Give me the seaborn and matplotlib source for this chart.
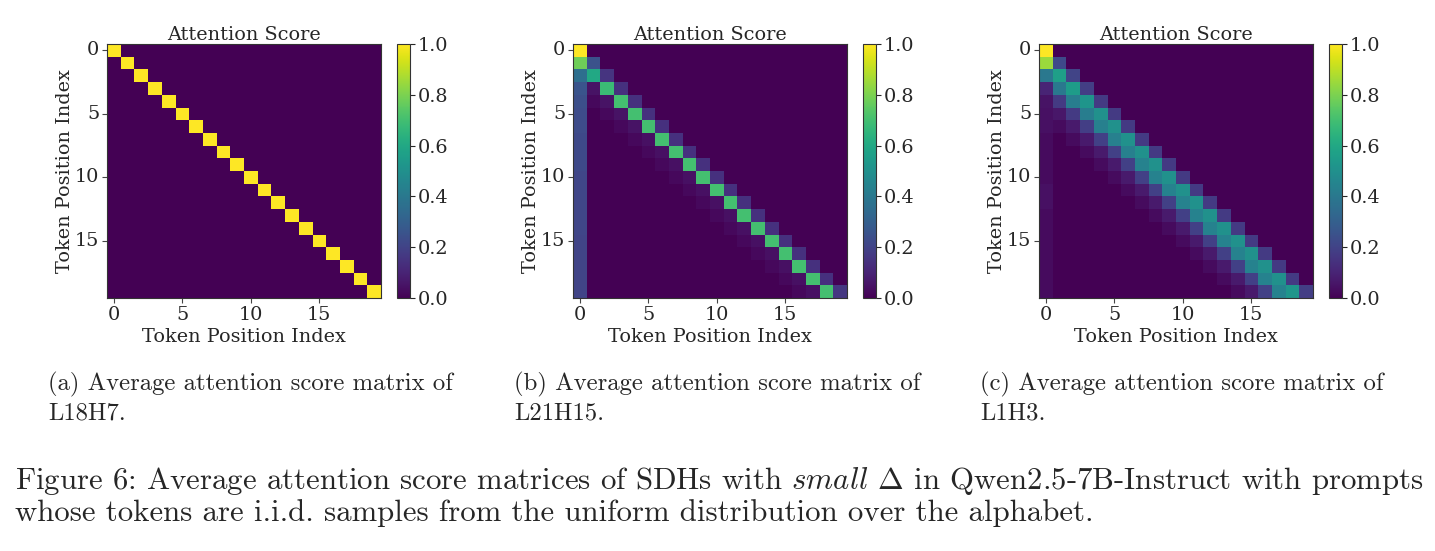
import numpy as np
import matplotlib
matplotlib.use("Agg")
import matplotlib.pyplot as plt
import seaborn as sns

# token positions 0..19
n_tokens = 20
tick_pos = [0, 5, 10, 15]

# panel (a) L18H7: pure self attention
a_first_col = [1.00, 0.00, 0.00, 0.00, 0.00, 0.00, 0.00, 0.00, 0.00, 0.00,
               0.00, 0.00, 0.00, 0.00, 0.00, 0.00, 0.00, 0.00, 0.00, 0.00]
a_diag = [1.00, 1.00, 1.00, 1.00, 1.00, 1.00, 1.00, 1.00, 1.00, 1.00,
          1.00, 1.00, 1.00, 1.00, 1.00, 1.00, 1.00, 1.00, 1.00]  # rows 1..19

# panel (b) L21H15: previous-token head + sink at token 0
b_first_col = [1.00, 0.78, 0.36, 0.26, 0.24, 0.23, 0.23, 0.22, 0.22, 0.22,
               0.21, 0.21, 0.21, 0.21, 0.21, 0.20, 0.20, 0.20, 0.20, 0.20]
b_diag = [0.25, 0.15, 0.14, 0.14, 0.14, 0.14, 0.14, 0.14, 0.14, 0.14,
          0.14, 0.14, 0.14, 0.14, 0.14, 0.14, 0.14, 0.14, 0.16]  # rows 1..19
b_sub1 = [0.60, 0.68, 0.70, 0.70, 0.70, 0.70, 0.70, 0.70, 0.70, 0.70,
          0.70, 0.70, 0.70, 0.70, 0.70, 0.70, 0.70, 0.70]  # rows 2..19
b_sub2 = [0.05, 0.05, 0.05, 0.05, 0.04, 0.04, 0.04, 0.04, 0.04, 0.04,
          0.04, 0.04, 0.04, 0.04, 0.04, 0.04, 0.04]  # rows 3..19
b_sub3 = [0.02, 0.02, 0.02, 0.02, 0.02, 0.02, 0.02, 0.02, 0.02, 0.02,
          0.02, 0.02, 0.02, 0.02, 0.02, 0.02]  # rows 4..19

# panel (c) L1H3: wider local band
c_first_col = [1.00, 0.85, 0.40, 0.10, 0.05, 0.04, 0.04, 0.03, 0.03, 0.03,
               0.03, 0.04, 0.04, 0.03, 0.03, 0.03, 0.03, 0.03, 0.03, 0.03]
c_diag = [0.22, 0.20, 0.18, 0.17, 0.17, 0.17, 0.17, 0.17, 0.17, 0.17,
          0.17, 0.17, 0.17, 0.17, 0.17, 0.17, 0.17, 0.17, 0.18]  # rows 1..19
c_sub1 = [0.56, 0.55, 0.52, 0.50, 0.50, 0.50, 0.50, 0.50, 0.50, 0.50,
          0.50, 0.50, 0.50, 0.50, 0.50, 0.50, 0.50, 0.52]  # rows 2..19
c_sub2 = [0.40, 0.42, 0.42, 0.43, 0.43, 0.43, 0.44, 0.44, 0.44, 0.44,
          0.44, 0.44, 0.44, 0.44, 0.44, 0.44, 0.44]  # rows 3..19
c_sub3 = [0.17, 0.17, 0.18, 0.19, 0.19, 0.19, 0.19, 0.19, 0.19, 0.19,
          0.19, 0.19, 0.19, 0.19, 0.19, 0.19]  # rows 4..19
c_sub4 = [0.06, 0.07, 0.07, 0.07, 0.07, 0.07, 0.07, 0.07, 0.07, 0.07,
          0.07, 0.07, 0.07, 0.07, 0.07]  # rows 5..19
c_sub5 = [0.03, 0.03, 0.03, 0.03, 0.03, 0.03, 0.03, 0.03, 0.03, 0.03,
          0.03, 0.03, 0.03, 0.03]  # rows 6..19

sub_captions = [("(a) Average attention score matrix of", "L18H7."),
                ("(b) Average attention score matrix of", "L21H15."),
                ("(c) Average attention score matrix of", "L1H3.")]
fig_caption = [("Figure 6: Average attention score matrices of SDHs with "
                r"$\mathit{small}$ $\Delta$ in Qwen2.5-7B-Instruct with prompts"),
               ("whose tokens are i.i.d. samples from the uniform distribution "
                "over the alphabet.")]


def build_matrix(first_col, bands):
    # bands[k] holds values of (row, row-k) starting where column >= 1
    m = np.zeros((n_tokens, n_tokens))
    for k, vals in bands.items():
        for j, v in enumerate(vals):
            row = k + 1 + j
            m[row, row - k] = v
    m[:, 0] = first_col
    return m


mats = [
    build_matrix(a_first_col, {0: a_diag}),
    build_matrix(b_first_col, {0: b_diag, 1: b_sub1, 2: b_sub2, 3: b_sub3}),
    build_matrix(c_first_col, {0: c_diag, 1: c_sub1, 2: c_sub2, 3: c_sub3,
                               4: c_sub4, 5: c_sub5}),
]

sns.set_style("white")
plt.rcParams['font.family'] = ['DejaVu Serif']
plt.rcParams['mathtext.fontset'] = 'cm'

W, H = 1435, 551
fig = plt.figure(figsize=(W / 100, H / 100), dpi=100)

ax_left = [107, 573, 1039]
cb_left = [397, 863, 1329]
top, bottom = 44, 298
fs = 13.9

for p in range(3):
    ax = fig.add_axes([ax_left[p] / W, 1 - bottom / H, 274 / W, (bottom - top) / H])
    cax = fig.add_axes([cb_left[p] / W, 1 - bottom / H, 13 / W, (bottom - top) / H])
    sns.heatmap(mats[p], cmap='viridis', vmin=0, vmax=1, ax=ax, cbar_ax=cax,
                linewidths=0)
    ax.set_xticks([t + 0.5 for t in tick_pos])
    ax.set_xticklabels(tick_pos, rotation=0)
    ax.set_yticks([t + 0.5 for t in tick_pos])
    ax.set_yticklabels(tick_pos, rotation=0)
    ax.tick_params(labelsize=fs, length=3.5, width=0.8, bottom=True, left=True,
                   color='#444444', pad=2)
    for s in ax.spines.values():
        s.set_visible(True)
        s.set_linewidth(0.8)
        s.set_color('#333333')
    ax.set_title("Attention Score", fontsize=fs, pad=3)
    ax.set_xlabel("Token Position Index", fontsize=fs, labelpad=3)
    ax.set_ylabel("Token Position Index", fontsize=fs, labelpad=1)

    cbar = ax.collections[0].colorbar
    cbar.set_ticks([0.0, 0.2, 0.4, 0.6, 0.8, 1.0])
    cbar.set_ticklabels(["0.0", "0.2", "0.4", "0.6", "0.8", "1.0"])
    cbar.outline.set_visible(True)
    cbar.outline.set_linewidth(0.8)
    cbar.outline.set_edgecolor('#333333')
    cax.tick_params(labelsize=fs, length=3.5, width=0.8, right=True, pad=2)

    x0 = (ax_left[p] - 59) / W
    fig.text(x0, 1 - 390 / H, sub_captions[p][0], family='cmr10',
             fontsize=17.8, va='baseline', ha='left')
    fig.text(x0, 1 - 419 / H, sub_captions[p][1], family='cmr10',
             fontsize=17.8, va='baseline', ha='left')

fig.text(15 / W, 1 - 489 / H, fig_caption[0], family='cmr10', fontsize=22.2,
         va='baseline', ha='left')
fig.text(15 / W, 1 - 521 / H, fig_caption[1], family='cmr10', fontsize=22.2,
         va='baseline', ha='left')

fig.savefig("out.png", dpi=100)
